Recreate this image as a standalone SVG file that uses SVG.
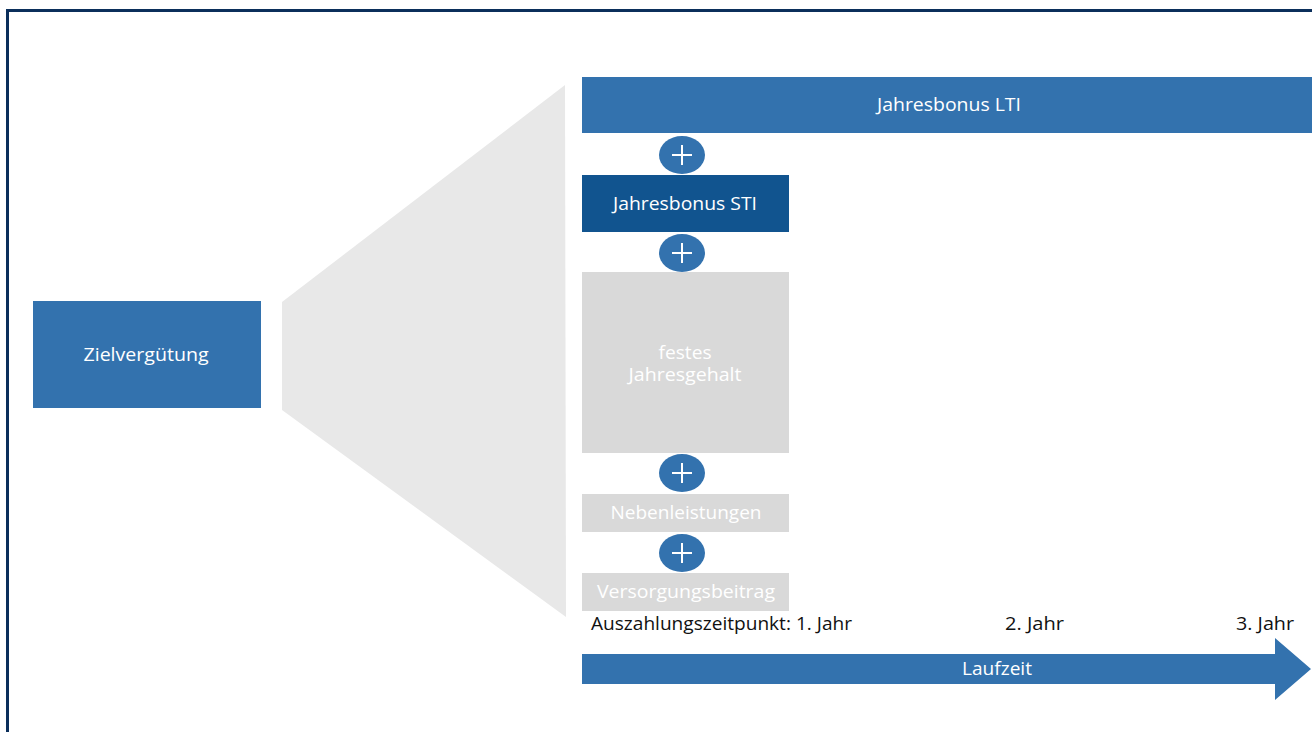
<svg xmlns="http://www.w3.org/2000/svg" width="1312" height="732" viewBox="0 0 1312 732">
<style>
.w{fill:#ffffff;font-family:"Open Sans","Liberation Sans",sans-serif;font-size:18px;font-weight:500;text-anchor:middle;dominant-baseline:central}
.k{fill:#111111;font-family:"Open Sans","Liberation Sans",sans-serif;font-size:18px;font-weight:400;dominant-baseline:central}
.blue{fill:#3372ae}
.dark{fill:#11548f}
.grey{fill:#d9d9d9}
.plus-c{fill:#3372ae}
.plus-l{stroke:#ffffff;stroke-width:2;fill:none}
</style>
<defs>
<g id="plus">
<ellipse cx="0" cy="0" rx="23" ry="19" class="plus-c"/>
<path d="M-10 0H10M0 -10V10" class="plus-l"/>
</g>
</defs>
<rect x="0" y="0" width="1312" height="732" fill="#ffffff"/>
<path d="M7.5 732V10.5H1312" fill="none" stroke="#0b2f5b" stroke-width="3"/>
<g id="funnel">
<polygon points="282,302 565,85 566,617 282,410" fill="#e8e8e8"/>
</g>
<g id="zielverguetung">
<rect x="33" y="301" width="228" height="107" class="blue"/>
<text x="146" y="354" class="w" textLength="125" lengthAdjust="spacingAndGlyphs">Zielvergütung</text>
</g>
<g id="lti">
<rect x="582" y="77" width="730" height="56" class="blue"/>
<text x="949" y="104" class="w" textLength="144" lengthAdjust="spacingAndGlyphs">Jahresbonus LTI</text>
</g>
<g id="sti">
<rect x="582" y="175" width="207" height="57" class="dark"/>
<text x="685" y="203" class="w" textLength="144" lengthAdjust="spacingAndGlyphs">Jahresbonus STI</text>
</g>
<g id="gehalt">
<rect x="582" y="272" width="207" height="181" class="grey"/>
<text x="685" y="352" class="w" textLength="53" lengthAdjust="spacingAndGlyphs">festes</text>
<text x="685" y="374" class="w" textLength="113" lengthAdjust="spacingAndGlyphs">Jahresgehalt</text>
</g>
<g id="nebenleistungen">
<rect x="582" y="494" width="207" height="38" class="grey"/>
<text x="686" y="512" class="w" textLength="151" lengthAdjust="spacingAndGlyphs">Nebenleistungen</text>
</g>
<g id="versorgung">
<rect x="582" y="573" width="207" height="38" class="grey"/>
<text x="686" y="591" class="w" textLength="178" lengthAdjust="spacingAndGlyphs">Versorgungsbeitrag</text>
</g>
<g id="connectors">
<use href="#plus" x="682" y="155"/>
<use href="#plus" x="682" y="253"/>
<use href="#plus" x="682" y="473"/>
<use href="#plus" x="682" y="553"/>
</g>
<g id="timeline">
<text x="591" y="623" class="k" textLength="261" lengthAdjust="spacingAndGlyphs">Auszahlungszeitpunkt: 1. Jahr</text>
<text x="1005" y="623" class="k" textLength="59" lengthAdjust="spacingAndGlyphs">2. Jahr</text>
<text x="1236" y="623" class="k" textLength="58" lengthAdjust="spacingAndGlyphs">3. Jahr</text>
<polygon points="582,654 1275,654 1275,638 1311,669 1275,700 1275,684 582,684" class="blue"/>
<text x="997" y="668" class="w" textLength="70" lengthAdjust="spacingAndGlyphs">Laufzeit</text>
</g>
</svg>
